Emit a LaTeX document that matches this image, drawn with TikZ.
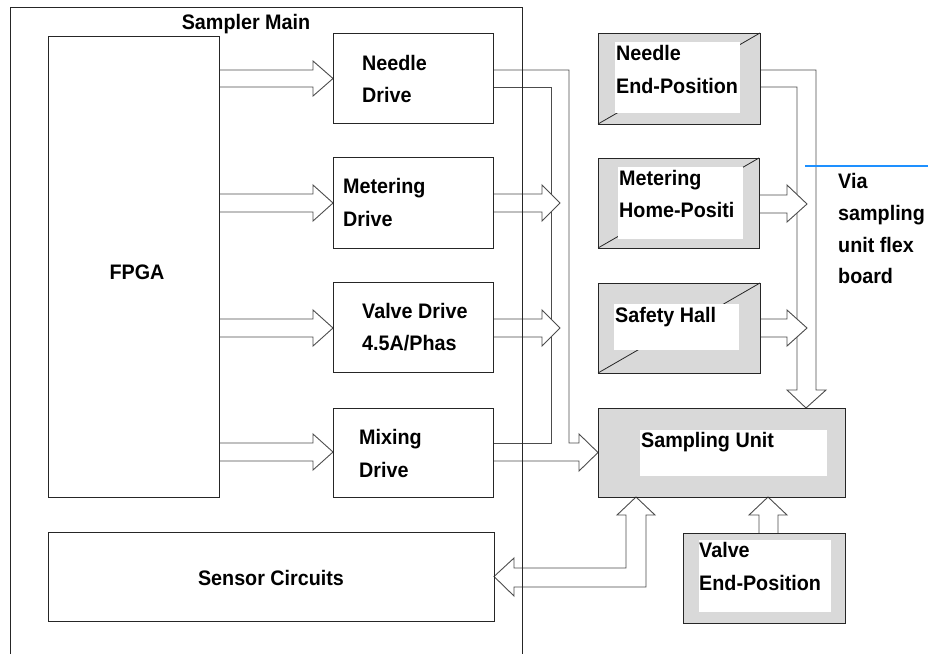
\documentclass[tikz,border=0pt]{standalone}
\usepackage{fontspec}
\setmainfont{Liberation Sans}[FakeStretch=0.94]
\definecolor{boxgray}{RGB}{217,217,217}
\definecolor{vialine}{RGB}{30,144,255}
\begin{document}
\begin{tikzpicture}[x=1pt,y=-1pt,
  box/.style={draw=black!85,line width=0.9pt,inner sep=0pt,outer sep=0pt,fill=white},
  gbox/.style={box,fill=boxgray},
  ln/.style={draw=black!70,line width=0.9pt,line join=miter},
  arr/.style={ln,fill=white},
  border/.style={draw=black!85,line width=0.9pt},
  frameline/.style={draw=black!85,line width=0.9pt},
  t/.style={anchor=base west,inner sep=0pt,font=\bfseries\fontsize{21}{25}\selectfont},
  tc/.style={t,anchor=base}]
\useasboundingbox (0,0) rectangle (928,654);

% ---- main-board boxes ----
\node[box,minimum width=171pt,minimum height=461pt] (fpga) at (133.5,266.5) {};
\node[box,minimum width=160pt,minimum height=90pt] (needle) at (413,78) {};
\node[box,minimum width=160pt,minimum height=91pt] (meter) at (413,202.5) {};
\node[box,minimum width=160pt,minimum height=90pt] (valve) at (413,327) {};
\node[box,minimum width=160pt,minimum height=89pt] (mixing) at (413,452.5) {};
\node[box,minimum width=446pt,minimum height=89pt] (sensor) at (271,576.5) {};

% ---- sampling-unit boxes ----
\node[gbox,minimum width=162pt,minimum height=91pt] (nep) at (679,78.5) {};
\node[gbox,minimum width=161pt,minimum height=90pt] (mhp) at (678.5,203) {};
\node[gbox,minimum width=162pt,minimum height=90pt] (safety) at (679,328) {};
\node[gbox,minimum width=247pt,minimum height=89pt] (sampling) at (721.5,452.5) {};
\node[gbox,minimum width=162pt,minimum height=90pt] (vep) at (764,578) {};

% bevel lines
\foreach \b in {nep,mhp,safety}{
  \draw[black!85,line width=0.8pt] (\b.north east) -- ++(-52,30);
  \draw[black!85,line width=0.8pt] (\b.south west) -- ++(52,-30);
}
% inner white panels
\fill[white] (615,42) rectangle (740,113);
\fill[white] (618,167) rectangle (743,239);
\fill[white] (614,304) rectangle (739,350);
\fill[white] (640,430) rectangle (827,476);
\fill[white] (699,540) rectangle (831,612);

% ---- bus lines from Needle Drive (merged with Mixing Drive arrow) ----
\draw[ln] (needle.east |- 0,70) -- (569,70) -- (569,443) -- (579,443) -- (579,434)
   -- (sampling.west) -- (579,471) -- (579,461) -- (mixing.east |- 0,461);
\draw[ln] (needle.east |- 0,87) -- (551,87) -- (551,443) -- (mixing.east |- 0,443);

% ---- Needle End-Position down to Sampling Unit ----
\draw[ln] (nep.east |- 0,70) -- (816,70) -- (816,390) -- (826,390)
   -- (sampling.north -| 806,0) -- (787,390) -- (797,390) -- (797,87) -- (nep.east |- 0,87);

% ---- FPGA to drives ----
\draw[ln] (fpga.east |- 0,70) -- (313,70) -- (313,61) -- (needle.west |- 0,78.5) -- (313,96) -- (313,87) -- (fpga.east |- 0,87);
\foreach \c/\n in {203/meter,328/valve,452/mixing}{
  \draw[ln] (fpga.east |- 0,\c-9) -- (313,\c-9) -- (313,\c-18) -- (\n.west |- 0,\c)
     -- (313,\c+18) -- (313,\c+9) -- (fpga.east |- 0,\c+9);
}
% ---- drives to bus ----
\foreach \c/\n in {203/meter,328/valve}{
  \draw[arr] (\n.east |- 0,\c-9) -- (542,\c-9) -- (542,\c-18) -- (560,\c)
     -- (542,\c+18) -- (542,\c+9) -- (\n.east |- 0,\c+9);
}
% ---- sensors to flex bus ----
\draw[arr] (mhp.east |- 0,195) -- (787,195) -- (787,185) -- (807,204) -- (787,222) -- (787,213) -- (mhp.east |- 0,213);
\draw[arr] (safety.east |- 0,319) -- (787,319) -- (787,310) -- (807,328) -- (787,346) -- (787,337) -- (safety.east |- 0,337);

% ---- Sampling Unit <-> Sensor Circuits ----
\draw[arr] (sensor.east) -- (514,558) -- (514,568) -- (626,568) -- (626,515) -- (617,515)
   -- (sampling.south -| 636,0) -- (655,515) -- (646,515) -- (646,587) -- (514,587) -- (514,596) -- cycle;

% ---- Valve End-Position to Sampling Unit ----
\draw[arr] (vep.north -| 759,0) -- (759,515) -- (749,515) -- (sampling.south -| 768,0)
   -- (787,515) -- (778,515) -- (vep.north -| 778,0);

% ---- redraw box borders over the connectors ----
\foreach \b in {fpga,needle,meter,valve,mixing,sensor,nep,mhp,safety,sampling,vep}{
  \draw[border] (\b.south west) rectangle (\b.north east);
}

% ---- Sampler Main frame ----
\draw[frameline] (10,654) -- (10,7) -- (522,7) -- (522,654);

% ---- blue marker line ----
\draw[vialine,line width=2pt] (805,166) -- (928,166);

% ---- texts ----
\node[tc] (tmain) at (246,29) {Sampler Main};
\node[tc] (tfpga) at (137,279) {FPGA};
\node[t] (tn1) at (362,70) {Needle};
\node[t] (tn2) at (362,102) {Drive};
\node[t] (tm1) at (343,193) {Metering};
\node[t] (tm2) at (343,226) {Drive};
\node[t] (tv1) at (362,318) {Valve Drive};
\node[t] (tv2) at (362,350) {4.5A/Phas};
\node[t] (tx1) at (359,444) {Mixing};
\node[t] (tx2) at (359,477) {Drive};
\node[tc] (tsens) at (271,585) {Sensor Circuits};
\node[t] (tne1) at (616,60) {Needle};
\node[t] (tne2) at (616,93) {End-Position};
\node[t] (tmh1) at (619,185) {Metering};
\node[t] (tmh2) at (619,217) {Home-Positi};
\node[t] (tsh) at (615,322) {Safety Hall};
\node[t] (tsu) at (641,447) {Sampling Unit};
\node[t] (tve1) at (699,557) {Valve};
\node[t] (tve2) at (699,590) {End-Position};
\node[t] (tvia1) at (838,188) {Via};
\node[t] (tvia2) at (838,220) {sampling};
\node[t] (tvia3) at (838,252) {unit flex};
\node[t] (tvia4) at (838,283) {board};
\end{tikzpicture}
\end{document}
